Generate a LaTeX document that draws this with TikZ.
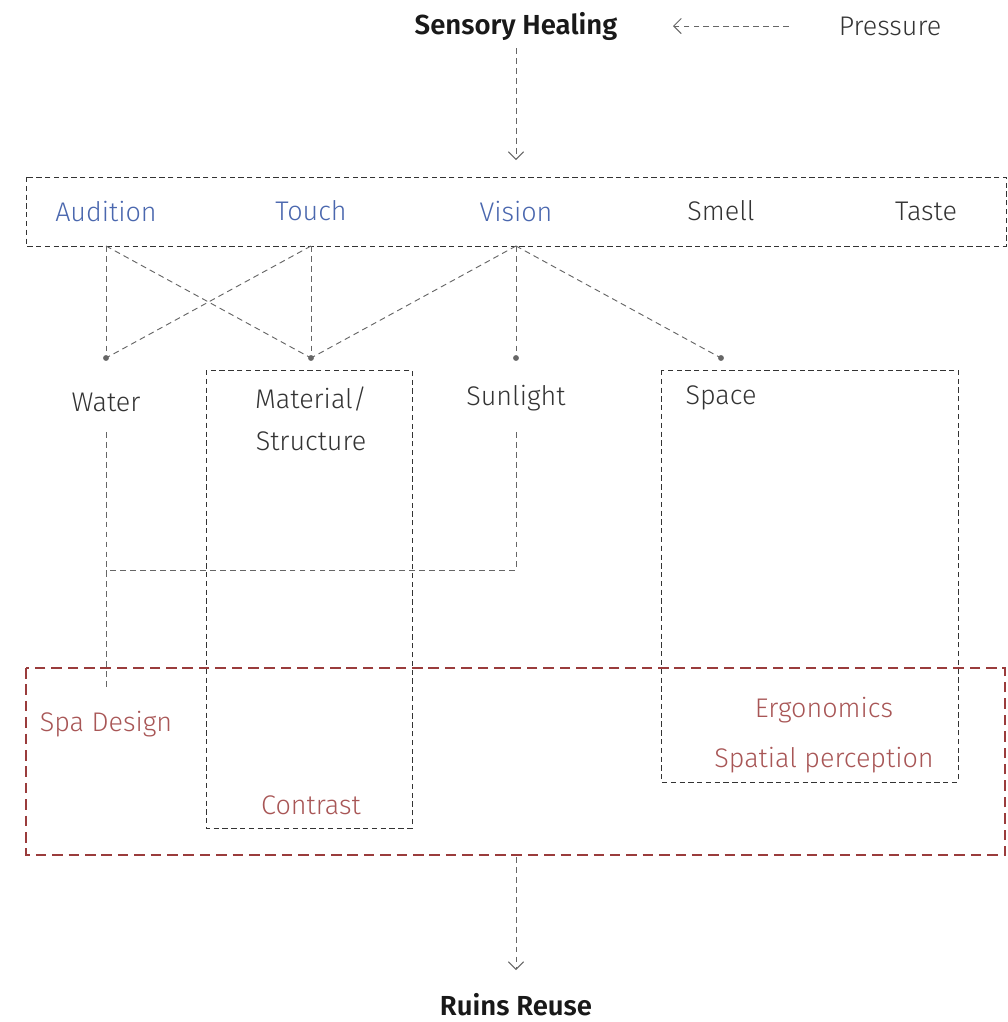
\documentclass[tikz,border=0pt]{standalone}
\usepackage{fontspec}
\IfFontExistsTF{Fira Sans Light}
	{\IfFontExistsTF{Fira Sans SemiBold}
		{\setmainfont{Fira Sans Light}[BoldFont={Fira Sans SemiBold}]}
		{\setmainfont{Fira Sans Light}[BoldFont={Fira Sans Medium}]}}
	{\setmainfont{Fira Sans}}
\usepackage{tikz}
\usetikzlibrary{arrows.meta}
\definecolor{lgray}{HTML}{666666}
\definecolor{dgray}{HTML}{333333}
\definecolor{sblue}{HTML}{4A67AE}
\definecolor{sred}{HTML}{A85656}
\definecolor{bred}{HTML}{9A3C3C}
\begin{document}
\begin{tikzpicture}[x=0.03cm, y=-0.03cm,
	txt/.style={font=\fontsize{23}{28}\selectfont, text=dgray, inner sep=0pt},
	ttl/.style={font=\fontsize{23.5}{28}\selectfont\bfseries, text=black!90, inner sep=0pt},
	link/.style={draw=lgray, line width=0.8pt, dash pattern=on 5pt off 3.5pt},
	flow/.style={link, -{Straight Barb[length=6.5pt, width=13pt]}},
	box/.style={draw=dgray, line width=0.85pt, dash pattern=on 4.5pt off 3pt},
	redbox/.style={draw=bred, line width=1.5pt, dash pattern=on 9pt off 5pt},
	dot/.style={circle, fill=lgray, inner sep=0pt, minimum size=5pt}]
			\useasboundingbox (0,0) rectangle (1008,1022);
			% titles
			\node[ttl] (heal) at (516,26) {Sensory Healing};
			\node[txt] (press) at (890,26) {Pressure};
			\node[ttl] (ruins) at (516,1005) {Ruins Reuse};
			% boxes
			\draw[box] (26,177) rectangle (1006,246);
			\draw[box] (206,370) rectangle (412,828);
			\draw[box] (661,370) rectangle (958,782);
			\draw[redbox] (26,668) rectangle (1005,855);
			% senses
			\node[txt, text=sblue] (aud) at (106,211) {Audition};
			\node[txt, text=sblue] (tou) at (311,211) {Touch};
			\node[txt, text=sblue] (vis) at (516,211) {Vision};
			\node[txt] (sme) at (721,211) {Smell};
			\node[txt] (tas) at (926,211) {Taste};
			\foreach \s in {aud,tou,vis}
			\coordinate (\s-b) at (\s |- 0,246);
			% elements
			\node[txt] (wat) at (106,402) {Water};
			\node[txt, align=center, font=\fontsize{23}{36}\selectfont] (mat) at (311,419) {Material/\\Structure};
			\node[txt] (sun) at (516,398) {Sunlight};
			\node[txt] (spa) at (721,398) {Space};
			\foreach \n in {wat,mat,sun,spa}
			\node[dot] (\n-d) at (\n |- 0,358) {};
			% results
			\node[txt, text=sred] (spad) at (106,724) {Spa Design};
			\node[txt, text=sred] (con) at (311,805) {Contrast};
			\node[txt, text=sred] (erg) at (824,710) {Ergonomics};
			\node[txt, text=sred] (spat) at (824,760) {Spatial perception};
			\coordinate (wat-t) at (106,432);
			\coordinate (wat-e) at (106,690);
			\coordinate (sun-t) at (516,432);
			\coordinate (joint) at (516,570);
			\coordinate (press-e) at (673,26);
			\coordinate (press-s) at (789,26);
			% links
			\draw[flow] (heal.south) ++(0,8) -- (516,160);
			\draw[flow] (press-s) -- (press-e);
			\draw[flow] (516,857) -- (516,970);
			\draw[link] (aud-b) -- (wat-d.center);
			\draw[link] (aud-b) -- (mat-d.center);
			\draw[link] (tou-b) -- (wat-d.center);
			\draw[link] (tou-b) -- (mat-d.center);
			\draw[link] (vis-b) -- (mat-d.center);
			\draw[link] (vis-b) -- (sun-d.center);
			\draw[link] (vis-b) -- (spa-d.center);
			\draw[link] (wat-t) -- (wat-e);
			\draw[link] (sun-t) -- (joint) -- (wat-t |- joint);
\end{tikzpicture}
\end{document}
